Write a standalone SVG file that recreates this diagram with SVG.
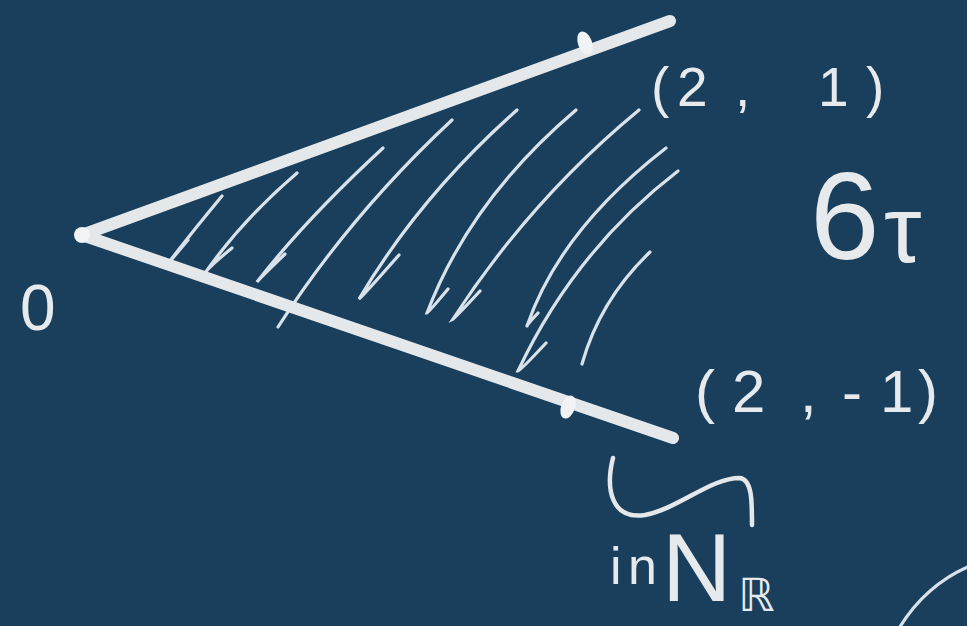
<svg xmlns="http://www.w3.org/2000/svg" width="967" height="626" viewBox="0 0 967 626">
  <style>
    .ray { stroke: #e4e8eb; stroke-width: 12; stroke-linecap: round; fill: none; }
    .hatch { stroke: #d9e2ea; stroke-width: 3.2; stroke-linecap: round; fill: none; }
    .pen { stroke: #e4e8eb; stroke-width: 4.5; stroke-linecap: round; fill: none; }
    .dot { fill: #f1f3f5; }
    .hand { fill: #e6eaed; font-family: "Liberation Sans", "DejaVu Sans", sans-serif; }
  </style>
  <rect x="0" y="0" width="967" height="626" fill="#1a3f5c"/>

  <g id="hatching">
    <path class="hatch" d="M166,266 Q192,232 222,196 M166,266 L188,240"/>
    <path class="hatch" d="M232,248 Q205,270 203,276 Q240,222 297,173"/>
    <path class="hatch" d="M285,254 Q258,280 257,282 Q305,220 383,148"/>
    <path class="hatch" d="M278,327 Q350,215 452,120"/>
    <path class="hatch" d="M399,255 Q362,297 359,299 Q420,196 517,110"/>
    <path class="hatch" d="M448,289 Q428,313 427,313 Q470,200 576,110"/>
    <path class="hatch" d="M480,291 Q455,318 453,319 Q530,200 639,110"/>
    <path class="hatch" d="M538,313 Q526,326 527,326 Q560,230 666,148"/>
    <path class="hatch" d="M546,343 Q520,371 518,371 Q575,250 678,171"/>
    <path class="hatch" d="M582,364 Q600,300 650,252"/>
  </g>

  <g id="cone">
    <path class="ray" d="M82,235 L670,21"/>
    <path class="ray" d="M82,235 L673,438"/>
    <circle class="dot" cx="82" cy="235" r="8"/>
  </g>

  <g id="point-2-1">
    <ellipse class="dot" cx="585" cy="43" rx="7" ry="12" transform="rotate(-20 585 43)"/>
    <text class="hand" font-size="55" x="651 677 735 760 818 866" y="106">(2, 1)</text>
  </g>

  <g id="point-2-m1">
    <ellipse class="dot" cx="568" cy="407" rx="7" ry="12" transform="rotate(19 568 407)"/>
    <text class="hand" font-size="60" x="695 732 800 842 880 918" y="412">(2,-1)</text>
  </g>

  <g id="origin">
    <text class="hand" font-size="64" x="20" y="330">0</text>
  </g>

  <g id="sigma-label">
    <text class="hand"><tspan font-size="125" x="810" y="259">6</tspan><tspan font-size="95" x="884" y="262">τ</tspan></text>
  </g>

  <g id="in-label">
    <text class="hand" font-size="52" x="610 628" y="584">in</text>
  </g>

  <g id="brace">
    <path class="pen" d="M613,458 C605,490 612,520 645,515 C680,508 710,478 740,478 C752,480 752,500 752,525"/>
  </g>

  <g id="NR-label">
    <text class="hand"><tspan font-size="96" x="662" y="601">N</tspan><tspan font-size="46" font-family="DejaVu Sans, sans-serif" x="738" y="611">ℝ</tspan></text>
  </g>

  <g id="arc">
    <path class="hatch" d="M898,630 Q925,585 970,566"/>
  </g>
</svg>
